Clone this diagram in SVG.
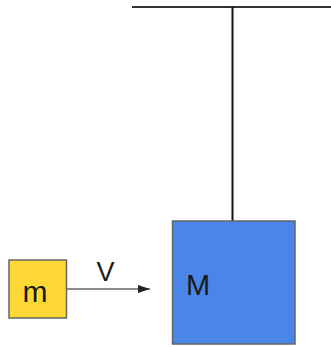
<svg xmlns="http://www.w3.org/2000/svg" width="331" height="347" viewBox="0 0 331 347">
<style>
.box{stroke:#666;stroke-width:1.5}
.lbl{font-family:"Liberation Sans",Arial,sans-serif;fill:#1a1a1a}
.ln{fill:none}
</style>
<defs>
<marker id="ah" markerWidth="12" markerHeight="8" refX="12" refY="4" orient="auto" markerUnits="userSpaceOnUse">
<path d="M0,0 L12,4 L0,8 Z" fill="#222"/>
</marker>
</defs>
<g id="connectors">
<line class="ln" x1="132" y1="7" x2="331" y2="7" stroke="#333" stroke-width="2.2"/>
<line class="ln" x1="232.5" y1="7" x2="232.5" y2="221" stroke="#111" stroke-width="2"/>
<line class="ln" x1="67" y1="289" x2="150" y2="289" stroke="#666" stroke-width="1.3" marker-end="url(#ah)"/>
<text class="lbl" x="105.5" y="280.5" font-size="27" text-anchor="middle">V</text>
</g>
<g id="node-m">
<rect class="box" x="9" y="260" width="57.5" height="58" fill="#FDD835"/>
<text class="lbl" x="35" y="301.5" font-size="30" text-anchor="middle">m</text>
</g>
<g id="node-M">
<rect class="box" x="172.5" y="221" width="122.5" height="123" fill="#4A86E8"/>
<text class="lbl" x="186" y="294.5" font-size="29">M</text>
</g>
</svg>
